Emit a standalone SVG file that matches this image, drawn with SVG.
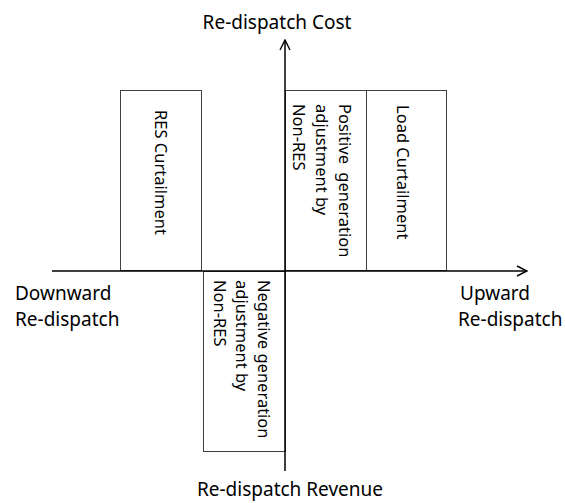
<svg xmlns="http://www.w3.org/2000/svg" width="565" height="503" viewBox="0 0 565 503">
<style>
.box{fill:none;stroke:#404040;stroke-width:1}
.ax{fill:none;stroke:#000;stroke-width:1.5}
.lbl{font-family:"Noto Sans","Open Sans",sans-serif;font-size:19px;fill:#000}
.rt{font-family:"Noto Sans","Open Sans",sans-serif;font-size:16.5px;fill:#000}
</style>
<defs>
<marker id="arr" viewBox="0 0 12 12" refX="11" refY="6" markerWidth="12" markerHeight="12" markerUnits="userSpaceOnUse" orient="auto">
<path d="M1,1 L11,6 L1,11" fill="none" stroke="#000" stroke-width="1.4"/>
</marker>
</defs>
<rect width="565" height="503" fill="#fff"/>
<g id="res-curtailment">
<rect class="box" x="120.5" y="90.5" width="81" height="180"/>
<text class="rt" transform="translate(155,110) rotate(90)">RES Curtailment</text>
</g>
<g id="positive-gen">
<rect class="box" x="285.5" y="90.5" width="81" height="180"/>
<text class="rt" transform="translate(339,104) rotate(90)"><tspan x="0" y="0" word-spacing="4">Positive generation</tspan><tspan x="0" y="23">adjustment by</tspan><tspan x="0" y="46">Non-RES</tspan></text>
</g>
<g id="load-curtailment">
<rect class="box" x="366.5" y="90.5" width="80" height="180"/>
<text class="rt" transform="translate(397,105) rotate(90)">Load Curtailment</text>
</g>
<g id="negative-gen">
<rect class="box" x="203.5" y="271.5" width="82" height="180"/>
<text class="rt" transform="translate(258,280) rotate(90)"><tspan x="0" y="0">Negative generation</tspan><tspan x="0" y="22">adjustment by</tspan><tspan x="0" y="44">Non-RES</tspan></text>
</g>
<g id="connectors">
<line class="ax" x1="52" y1="271" x2="527" y2="271" marker-end="url(#arr)"/>
<line class="ax" x1="285" y1="471" x2="285" y2="40" marker-end="url(#arr)"/>
</g>
<g id="labels">
<text class="lbl" x="277" y="29" text-anchor="middle">Re-dispatch Cost</text>
<text class="lbl" x="15" y="300">Downward</text>
<text class="lbl" x="15" y="326">Re-dispatch</text>
<text class="lbl" x="460" y="300">Upward</text>
<text class="lbl" x="458" y="326">Re-dispatch</text>
<text class="lbl" x="290" y="496" text-anchor="middle">Re-dispatch Revenue</text>
</g>
</svg>
